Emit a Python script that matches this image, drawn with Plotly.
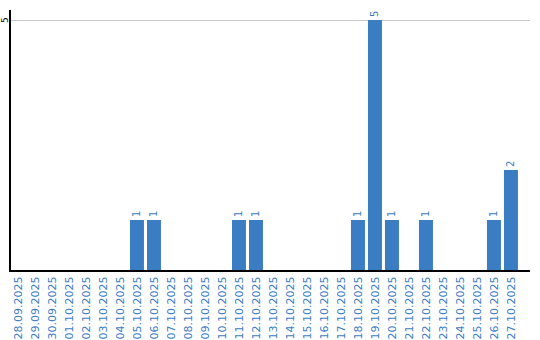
import plotly.graph_objects as go

dates = ["28.09.2025","29.09.2025","30.09.2025","01.10.2025","02.10.2025","03.10.2025",
         "04.10.2025","05.10.2025","06.10.2025","07.10.2025","08.10.2025","09.10.2025",
         "10.10.2025","11.10.2025","12.10.2025","13.10.2025","14.10.2025","15.10.2025",
         "16.10.2025","17.10.2025","18.10.2025","19.10.2025","20.10.2025","21.10.2025",
         "22.10.2025","23.10.2025","24.10.2025","25.10.2025","26.10.2025","27.10.2025"]
counts = [0,0,0,0,0,0,0,1,1,0,0,0,0,1,1,0,0,0,0,0,1,5,1,0,1,0,0,0,1,2]
y_ticks = [5]

blue = "#3b7dc3"
pos = list(range(len(dates)))
labels = [str(v) if v > 0 else "" for v in counts]

fig = go.Figure(go.Bar(
    x=pos, y=counts, text=labels, textposition="outside", textangle=-90,
    textfont=dict(family="DejaVu Sans", size=10, color=blue),
    marker=dict(color=blue, line=dict(width=0)), width=14/17, cliponaxis=False,
))
for t in y_ticks:
    fig.add_annotation(xref="paper", x=0, xanchor="center", xshift=-6, yref="y", y=t,
                       text=str(t), textangle=-90, showarrow=False,
                       font=dict(family="DejaVu Sans", size=9, color="black"))
fig.update_layout(
    width=540, height=340, margin=dict(l=11, r=10, t=10, b=70),
    paper_bgcolor="white", plot_bgcolor="white", showlegend=False,
    xaxis=dict(tickmode="array", tickvals=pos, ticktext=dates, tickangle=-90,
               range=[-0.41, 30.12], showgrid=False, showline=True, linecolor="black",
               linewidth=2, ticks="", zeroline=False, automargin=False,
               tickfont=dict(family="DejaVu Sans", size=11, color=blue)),
    yaxis=dict(range=[0, 5.2], tickvals=y_ticks, showticklabels=False,
               showgrid=True, gridcolor="#c8c8c8", gridwidth=1, showline=True,
               linecolor="black", linewidth=2, ticks="", zeroline=False, automargin=False),
)
fig.write_html("out.html")
